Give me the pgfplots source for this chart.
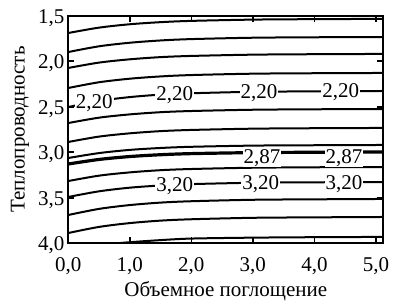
\documentclass[border=0pt]{standalone}
\usepackage{fontspec}
\setmainfont{Liberation Serif}
\usepackage{pgfplots}
\pgfplotsset{compat=1.18}
\tikzset{cl/.style={black, solid, smooth, line width=2.0pt}}
\begin{document}
\fontsize{21}{25}\selectfont
\begin{tikzpicture}[font=\fontsize{21}{25}\selectfont]
\begin{axis}[
  scale only axis,
  width=315pt, height=227.6pt,
  xmin=0, xmax=5.12, ymin=1.5, ymax=4.0,
  y dir=reverse,
  every axis/.append style={line width=2pt},
  axis line style={line width=2pt},
  tick align=inside,
  major tick length=6pt,
  every tick/.style={black, line width=1.6pt},
  xtick={0,1,2,3,4,5},
  xticklabels={{0,0},{1,0},{2,0},{3,0},{4,0},{5,0}},
  ytick={1.5,2,2.5,3,3.5,4},
  yticklabels={{1,5},{2,0},{2,5},{3,0},{3,5},{4,0}},
  /pgf/number format/assume math mode=true,
  xticklabel style={yshift=-6pt},
  yticklabel style={xshift=4pt, yshift=-2pt},
  xlabel={Объемное поглощение},
  ylabel={Теплопроводность},
  xlabel style={yshift=8pt},
  ylabel style={yshift=-6pt},
  clip=true,
]
\addplot[cl] coordinates {(0,1.690) (0.5,1.631) (1,1.594) (1.5,1.571) (2,1.557) (3,1.543) (4,1.538) (5.12,1.535)};
\addplot[cl] coordinates {(0,1.899) (0.5,1.836) (1,1.797) (1.5,1.772) (2,1.757) (3,1.742) (4,1.737) (5.12,1.734)};
\addplot[cl] coordinates {(0,2.074) (0.5,2.015) (1,1.979) (1.5,1.955) (2,1.942) (3,1.928) (4,1.923) (5.12,1.920)};
\addplot[cl] coordinates {(0,2.294) (0.5,2.231) (1,2.192) (1.5,2.167) (2,2.152) (3,2.137) (4,2.132) (5.12,2.129)};
\addplot[cl] coordinates {(0,2.503) (0.5,2.436) (1,2.394) (1.5,2.367) (2,2.352) (3,2.336) (4,2.331) (5.12,2.327)};
\addplot[cl] coordinates {(0,2.679) (0.5,2.620) (1,2.584) (1.5,2.560) (2,2.547) (3,2.533) (4,2.528) (5.12,2.525)};
\addplot[cl] coordinates {(0,2.887) (0.5,2.828) (1,2.792) (1.5,2.768) (2,2.755) (3,2.741) (4,2.736) (5.12,2.733)};
\addplot[cl] coordinates {(0,3.063) (0.5,3.009) (1,2.974) (1.5,2.953) (2,2.940) (3,2.927) (4,2.923) (5.12,2.920)};
\addplot[cl, line width=3.2pt] coordinates {(0,3.129) (0.5,3.079) (1,3.047) (1.5,3.027) (2,3.015) (3,3.004) (4,3.000) (5.12,2.997)};
\addplot[cl] coordinates {(0,3.316) (0.5,3.257) (1,3.221) (1.5,3.197) (2,3.184) (3,3.170) (4,3.165) (5.12,3.162)};
\addplot[cl] coordinates {(0,3.491) (0.5,3.429) (1,3.389) (1.5,3.365) (2,3.350) (3,3.335) (4,3.330) (5.12,3.327)};
\addplot[cl] coordinates {(0,3.689) (0.5,3.622) (1,3.580) (1.5,3.553) (2,3.538) (3,3.522) (4,3.517) (5.12,3.513)};
\addplot[cl] coordinates {(0,3.887) (0.5,3.820) (1,3.778) (1.5,3.751) (2,3.736) (3,3.720) (4,3.715) (5.12,3.711)};
\addplot[cl] coordinates {(0.8,4.0) (1,3.988) (1.5,3.965) (2,3.948) (3,3.938) (4,3.933) (5.12,3.930)};
\begin{scope}[every node/.style={fill=white, inner sep=1pt}]
\node at (axis cs:0.42,2.455) {2,20};
\node at (axis cs:1.73,2.37) {2,20};
\node at (axis cs:3.10,2.35) {2,20};
\node at (axis cs:4.43,2.345) {2,20};
\node at (axis cs:3.15,3.06) {2,87};
\node at (axis cs:4.48,3.06) {2,87};
\node at (axis cs:1.73,3.37) {3,20};
\node at (axis cs:3.13,3.35) {3,20};
\node at (axis cs:4.48,3.345) {3,20};
\end{scope}
\end{axis}
\pgfresetboundingbox
\path ([shift={(-68.3pt,-62.7pt)}]current axis.south west) rectangle ([shift={(16.7pt,15.7pt)}]current axis.north east);
\end{tikzpicture}
\end{document}
